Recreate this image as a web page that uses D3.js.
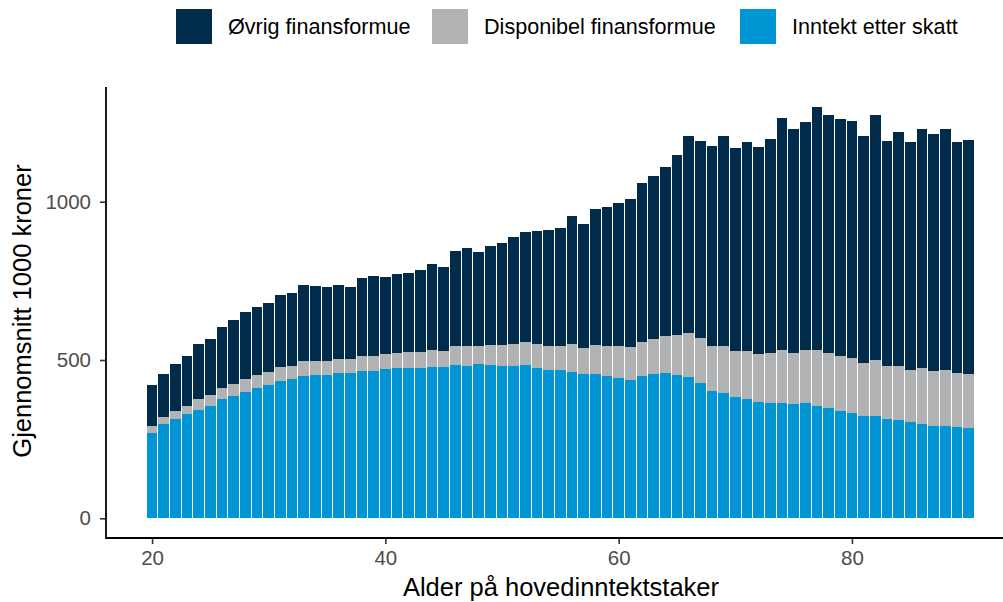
<!DOCTYPE html>
<html>
<head>
<meta charset="utf-8">
<script src="https://cdn.jsdelivr.net/npm/d3@7"></script>
<style>
  body { margin: 0; background: #fff; }
  text { font-family: "Liberation Sans", Arial, sans-serif; }
</style>
</head>
<body>
<svg width="1003" height="602"></svg>
<script>
var ages = [20,21,22,23,24,25,26,27,28,29,30,31,32,33,34,35,36,37,38,39,
            40,41,42,43,44,45,46,47,48,49,50,51,52,53,54,55,56,57,58,59,
            60,61,62,63,64,65,66,67,68,69,70,71,72,73,74,75,76,77,78,79,
            80,81,82,83,84,85,86,87,88,89,90];

// Inntekt etter skatt
var inntekt = [271,299,314,329,342,355,377,386,399,412,421,434,440,449,453,453,459,459,465,465,
               472,475,475,475,478,478,484,481,487,484,481,481,484,475,468,468,462,456,456,449,
               443,437,449,456,459,453,446,427,402,396,383,377,367,364,364,361,364,355,348,339,
               333,323,323,314,311,304,298,292,292,288,285];

// Disponibel finansformue
var disponibel = [21,21,25,26,35,34,35,38,41,41,41,44,41,48,44,44,44,44,48,48,
                  47,47,50,50,54,50,60,63,57,63,66,70,73,76,76,76,89,82,91,95,
                  101,104,108,110,117,126,139,142,142,148,145,151,152,158,168,161,168,177,174,174,
                  173,168,177,167,170,164,177,173,176,171,171];

// Øvrig finansformue
var ovrig = [129,136,148,158,174,177,192,202,212,214,218,227,231,240,237,234,234,228,246,252,
             243,250,250,259,271,266,300,310,297,313,322,337,347,356,367,373,404,391,430,439,
             452,467,502,515,533,568,622,623,632,663,641,660,654,676,732,707,720,767,752,748,
             749,716,774,711,739,720,754,749,761,729,739];

var seriesKeys = ['inntekt', 'disponibel', 'ovrig'];
var seriesNames = ['Inntekt etter skatt', 'Disponibel finansformue', 'Øvrig finansformue'];
var seriesColors = ['#0096d6', '#b1b2b4', '#002b4b'];
var xTicks = [20, 40, 60, 80];
var yTicks = [0, 500, 1000];

var rows = ages.map((a, i) => ({age: a, inntekt: inntekt[i], disponibel: disponibel[i], ovrig: ovrig[i]}));

var plotLeft = 106, plotRight = 1003, plotTop = 87, plotBottom = 538;

var xScale = d3.scaleLinear()
                .domain([16.05, 92.95])
                .range([plotLeft, plotRight]);
var yScale = d3.scaleLinear()
                .domain([-62.2, 1362.3])
                .range([plotBottom, plotTop]);

var layers = d3.stack().keys(seriesKeys)(rows);

var svg = d3.select('svg');

var barW = (xScale(1) - xScale(0)) * 0.93;

svg.append('g')
  .selectAll('g')
  .data(layers)
  .enter()
  .append('g')
    .attr('fill', (d, i) => seriesColors[i])
  .selectAll('rect')
  .data(d => d)
  .enter()
  .append('rect')
    .attr('shape-rendering', 'crispEdges')
    .attr('x', d => xScale(d.data.age) - barW / 2)
    .attr('width', barW)
    .attr('y', d => yScale(d[1]))
    .attr('height', d => yScale(d[0]) - yScale(d[1]));

// axes
var xAxis = d3.axisBottom(xScale).tickValues(xTicks).tickFormat(d3.format('d')).tickSize(6).tickPadding(6);
var yAxis = d3.axisLeft(yScale).tickValues(yTicks).tickFormat(d3.format('d')).tickSize(6).tickPadding(9);

var gx = svg.append('g')
    .attr('transform', 'translate(0,' + plotBottom + ')')
    .call(xAxis);
var gy = svg.append('g')
    .attr('transform', 'translate(' + plotLeft + ',0)')
    .call(yAxis);

[gx, gy].forEach(g => {
  g.select('.domain').remove();
  g.selectAll('.tick line').attr('stroke', '#333').attr('stroke-width', 1.6);
  g.selectAll('.tick text')
    .attr('fill', '#4d4d4d')
    .style('font-size', '20.5px');
});

svg.append('line')
    .attr('x1', plotLeft).attr('x2', plotRight)
    .attr('y1', plotBottom).attr('y2', plotBottom)
    .attr('stroke', '#000').attr('stroke-width', 1.8);
svg.append('line')
    .attr('x1', plotLeft).attr('x2', plotLeft)
    .attr('y1', plotTop).attr('y2', plotBottom + 0.9)
    .attr('stroke', '#000').attr('stroke-width', 1.8);

// axis titles
svg.append('text')
    .attr('x', 561)
    .attr('y', 596)
    .style('text-anchor', 'middle')
    .style('font-size', '25.5px')
    .text('Alder på hovedinntektstaker');

svg.append('text')
    .attr('transform', 'rotate(-90)')
    .attr('x', -311)
    .attr('y', 31)
    .style('text-anchor', 'middle')
    .style('font-size', '25.5px')
    .text('Gjennomsnitt 1000 kroner');

// legend
var legendOrder = [2, 1, 0];
var legendX = [176, 432, 740];
var legend = svg.append('g')
  .selectAll('g')
  .data(legendOrder)
  .enter()
  .append('g')
    .attr('transform', (d, i) => 'translate(' + legendX[i] + ',9)');

legend.append('rect')
    .attr('width', 36)
    .attr('height', 35)
    .attr('fill', d => seriesColors[d]);

legend.append('text')
    .attr('x', 52)
    .attr('y', 24.5)
    .style('font-size', '21.6px')
    .text(d => seriesNames[d]);
</script>
</body>
</html>
